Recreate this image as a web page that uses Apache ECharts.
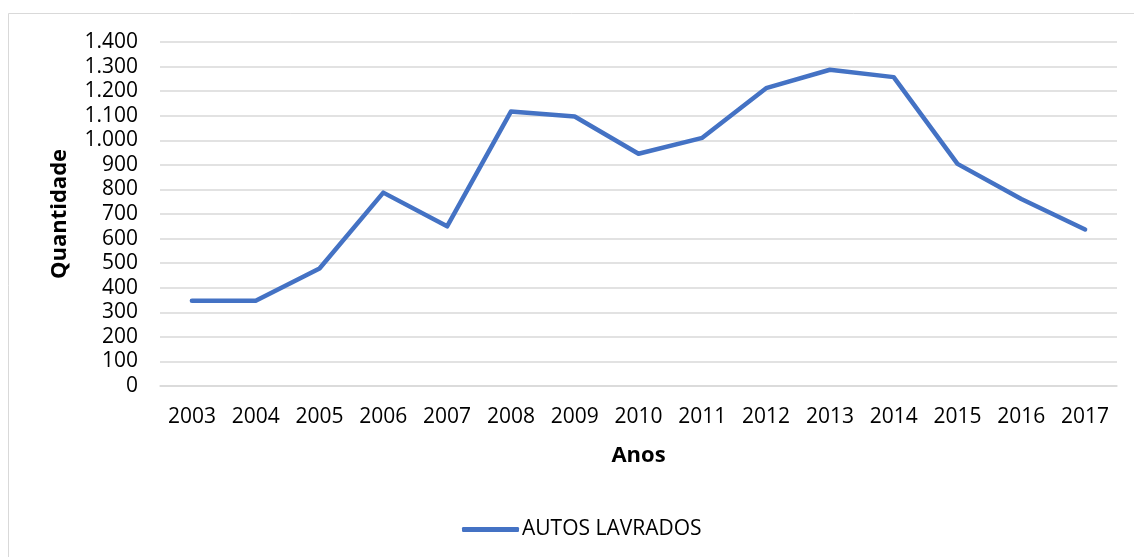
<!DOCTYPE html>
<html>
<head>
<meta charset="utf-8">
<script src="https://cdn.jsdelivr.net/npm/echarts@6/dist/echarts.min.js"></script>
<style>
  html, body { margin: 0; padding: 0; background: #fff; }
  #chart { width: 1134px; height: 557px; }
</style>
</head>
<body>
<div id="chart"></div>
<script>
// Yearly counts of "autos lavrados"
const anos = ['2003','2004','2005','2006','2007','2008','2009','2010','2011','2012','2013','2014','2015','2016','2017'];
const autosLavrados = [347, 347, 478, 787, 650, 1117, 1097, 945, 1010, 1212, 1287, 1257, 904, 761, 637];
const nomeSerie = 'AUTOS LAVRADOS';
const tituloX = 'Anos';
const tituloY = 'Quantidade';

const FONT = '"Open Sans", "Noto Sans", sans-serif';

// thousands separator as a dot (pt-BR)
function fmtMilhar(v) {
  return String(v).replace(/\B(?=(\d{3})+(?!\d))/g, '.');
}

const chart = echarts.init(document.getElementById('chart'), null, { renderer: 'canvas' });
chart.setOption({
  animation: false,
  backgroundColor: '#fff',
  textStyle: { fontFamily: FONT },
  graphic: [{
    type: 'rect',
    shape: { x: 8.5, y: 13.5, width: 1140, height: 560 },
    style: { fill: null, stroke: '#d9d9d9', lineWidth: 1 },
    silent: true
  }],
  grid: { left: 160, right: 17, top: 42, bottom: 171 },
  legend: {
    data: [nomeSerie],
    left: 457,
    top: 514,
    itemWidth: 57,
    itemHeight: 5,
    itemGap: 4,
    icon: 'roundRect',
    textStyle: { fontFamily: FONT, fontSize: 21, color: '#000', padding: [0, 0, 0, -2] }
  },
  xAxis: {
    type: 'category',
    data: anos,
    boundaryGap: true,
    name: tituloX,
    nameLocation: 'middle',
    nameGap: 59,
    nameTextStyle: { fontFamily: FONT, fontSize: 22, fontWeight: 'bold', color: '#000' },
    axisLine: { show: true, lineStyle: { color: '#d9d9d9', width: 1.5 } },
    axisTick: { show: false },
    axisLabel: { margin: 21, fontFamily: FONT, fontSize: 21, color: '#000' }
  },
  yAxis: {
    type: 'value',
    min: 0,
    max: 1400,
    interval: 100,
    name: tituloY,
    nameLocation: 'middle',
    nameRotate: 90,
    nameGap: 89,
    nameTextStyle: { fontFamily: FONT, fontSize: 22, fontWeight: 'bold', color: '#000' },
    axisLine: { show: false },
    axisTick: { show: false },
    splitLine: { show: true, lineStyle: { color: '#d9d9d9', width: 1.5 } },
    axisLabel: { margin: 22, fontFamily: FONT, fontSize: 21, color: '#000', formatter: fmtMilhar }
  },
  series: [{
    name: nomeSerie,
    type: 'line',
    data: autosLavrados,
    symbol: 'none',
    lineStyle: { color: '#4472C4', width: 4.5, join: 'round', cap: 'round' },
    itemStyle: { color: '#4472C4' }
  }]
});
</script>
</body>
</html>
